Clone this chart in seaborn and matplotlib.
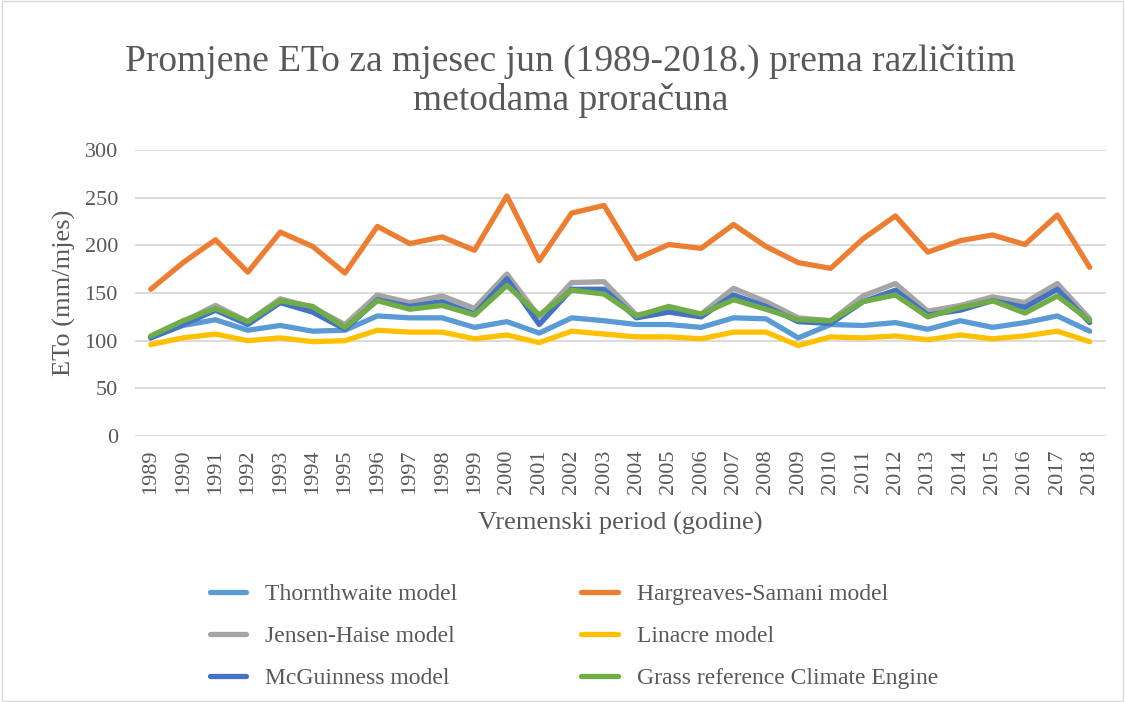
import pandas as pd
import seaborn as sns
import matplotlib
matplotlib.use("Agg")
import matplotlib.pyplot as plt
from matplotlib.patches import Rectangle

# Data (ETo for June, mm/month)
years = list(range(1989, 2019))

thornthwaite = [103, 116, 122, 111, 116, 110, 111, 126, 124, 124, 114, 120, 108, 124, 121,
                117, 117, 114, 124, 123, 103, 117, 116, 119, 112, 121, 114, 119, 126, 110]
hargreaves = [154, 182, 206, 172, 214, 199, 171, 220, 202, 209, 195, 252, 184, 234, 242,
              186, 201, 197, 222, 199, 182, 176, 207, 231, 193, 205, 211, 201, 232, 177]
jensen = [104, 120, 137, 120, 144, 135, 117, 148, 140, 147, 134, 170, 125, 161, 162,
          127, 133, 128, 155, 141, 124, 121, 147, 160, 131, 137, 146, 140, 160, 123]
linacre = [96, 103, 107, 100, 103, 99, 100, 111, 109, 109, 102, 106, 98, 110, 107,
           104, 104, 102, 109, 109, 95, 104, 103, 105, 101, 106, 102, 105, 110, 99]
mcguinness = [103, 117, 132, 117, 140, 130, 112, 143, 136, 141, 128, 165, 117, 154, 154,
              124, 130, 125, 148, 136, 120, 118, 141, 153, 127, 132, 142, 135, 154, 119]
grass = [105, 121, 134, 120, 142, 136, 114, 142, 133, 137, 127, 158, 127, 153, 149,
         126, 136, 128, 143, 133, 122, 121, 141, 148, 125, 135, 142, 129, 147, 121]

series_names = ["Thornthwaite model", "Hargreaves-Samani model", "Jensen-Haise model",
                "Linacre model", "McGuinness model", "Grass reference Climate Engine"]
series_values = [thornthwaite, hargreaves, jensen, linacre, mcguinness, grass]
colors = ["#5B9BD5", "#ED7D31", "#A5A5A5", "#FFC000", "#4472C4", "#70AD47"]

# long table for seaborn
rows = []
for name, vals in zip(series_names, series_values):
    for i, v in enumerate(vals):
        rows.append({"idx": i, "year": years[i], "model": name, "eto": v})
df = pd.DataFrame(rows)

sns.set_theme(style="white")
plt.rcParams["font.family"] = ["Liberation Serif", "DejaVu Serif"]
text_col = "#595959"
lw = 3.8

fig = plt.figure(figsize=(11.25, 7.02), dpi=100)
ax = fig.add_axes([0.1196, 0.379, 0.983 - 0.1196, 0.786 - 0.379])

sns.lineplot(data=df, x="idx", y="eto", hue="model", hue_order=series_names,
             palette=dict(zip(series_names, colors)), linewidth=lw, ax=ax,
             legend=False)

ax.set_xlim(-0.5, len(years) - 0.5)
ax.set_ylim(0, 300)
ax.set_yticks(range(0, 301, 50))
ax.set_xticks(range(len(years)))
ax.set_xticklabels([str(y) for y in years], rotation=90)
ax.tick_params(axis="both", labelsize=16, colors=text_col, length=0)
ax.tick_params(axis="x", pad=10)
ax.tick_params(axis="y", pad=12)
ax.grid(axis="y", color="#D9D9D9", linewidth=1.3)
ax.set_axisbelow(True)
for s in ax.spines.values():
    s.set_visible(False)

ax.set_xlabel("Vremenski period (godine)", fontsize=19, color=text_col, labelpad=13)
ax.set_ylabel("ETo (mm/mjes)", fontsize=19, color=text_col, labelpad=6)

fig.text(0.507, 0.885, "Promjene ETo za mjesec jun (1989-2018.) prema različitim\nmetodama proračuna",
         ha="center", va="center", fontsize=27, color=text_col, linespacing=1.13)

# legend: 3 rows x 2 columns, filled column-wise
order = [0, 2, 4, 1, 3, 5]
leg = fig.legend([plt.Line2D([], [], color=colors[i], linewidth=lw) for i in order],
                 [series_names[i] for i in order],
                 ncol=2, loc="upper left", bbox_to_anchor=(0.1676, 0.1994), frameon=False,
                 fontsize=17, handlelength=1.55, handletextpad=0.8, columnspacing=5.25,
                 labelspacing=0.88)
for t in leg.get_texts():
    t.set_color(text_col)

fig.patches.append(Rectangle((0.002, 0.002), 0.996, 0.996, transform=fig.transFigure,
                             fill=False, edgecolor="#D9D9D9", linewidth=1))

fig.savefig("out.png", dpi=100)
